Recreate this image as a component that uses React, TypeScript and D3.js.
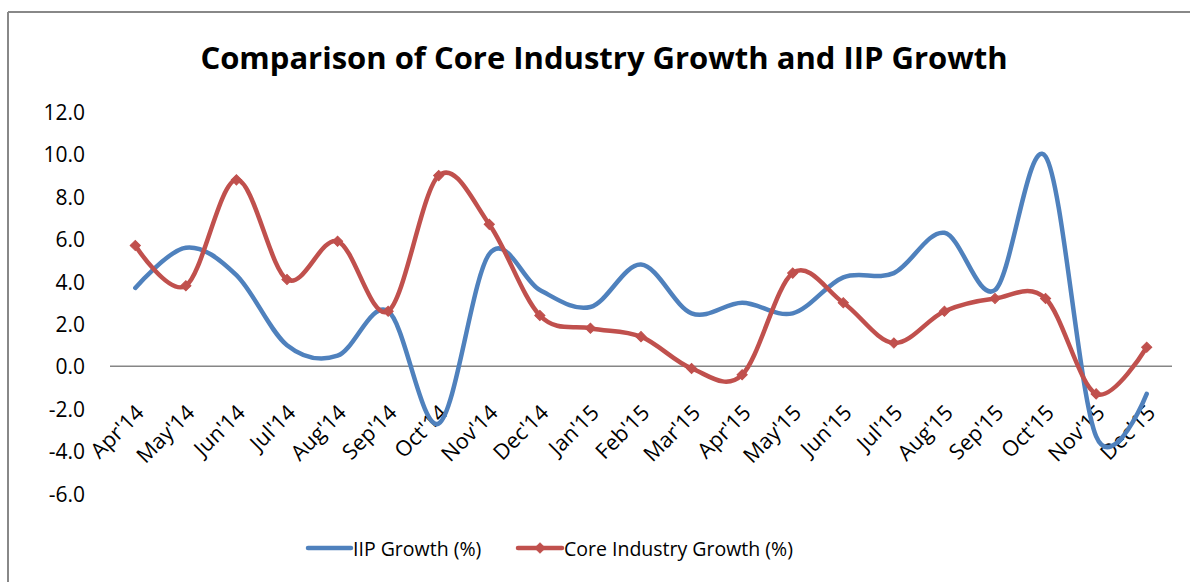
import React from "react";
import * as d3 from "d3";

const categories = [
  "Apr'14", "May'14", "Jun'14", "Jul'14", "Aug'14", "Sep'14", "Oct'14",
  "Nov'14", "Dec'14", "Jan'15", "Feb'15", "Mar'15", "Apr'15", "May'15",
  "Jun'15", "Jul'15", "Aug'15", "Sep'15", "Oct'15", "Nov'15", "Dec'15",
];
const iipGrowth = [
  3.7, 5.6, 4.3, 1.0, 0.5, 2.6, -2.7, 5.3, 3.6, 2.8, 4.8, 2.5, 3.0, 2.5,
  4.2, 4.4, 6.3, 3.6, 9.9, -3.3, -1.3,
];
const coreGrowth = [
  5.7, 3.8, 8.8, 4.1, 5.9, 2.6, 9.0, 6.7, 2.4, 1.8, 1.4, -0.1, -0.4, 4.4,
  3.0, 1.1, 2.6, 3.2, 3.2, -1.3, 0.9,
];
const yTicks = [12, 10, 8, 6, 4, 2, 0, -2, -4, -6];

const TITLE = "Comparison of Core Industry Growth and IIP Growth";
const BLUE = "#4F81BD";
const RED = "#C0504D";
const FONT = "'Open Sans', 'Liberation Sans', sans-serif";

export default function App() {
  const W = 1190;
  const H = 582;
  const x = d3.scaleBand<string>().domain(categories).range([110, 1172]);
  const y = d3.scaleLinear().domain([-6, 12]).range([493.5, 112]);
  const cx = (c: string) => (x(c) as number) + x.bandwidth() / 2;

  const line = d3
    .line<number>()
    .x((_, i) => cx(categories[i]))
    .y((d) => y(d))
    .curve(d3.curveCatmullRom.alpha(0));

  const diamond = d3.symbol().type(d3.symbolSquare).size(52)();

  return (
    <svg
      width={W}
      height={H}
      style={{ position: "absolute", left: 0, top: 0, background: "#fff" }}
    >
      <rect x={0} y={0} width={W} height={H} fill="#fff" />
      {/* frame */}
      <line x1={8} y1={12} x2={W} y2={12} stroke="#888" strokeWidth={2} />
      <line x1={8} y1={12} x2={8} y2={H} stroke="#888" strokeWidth={2} />

      <text
        x={604}
        y={57}
        textAnchor="middle"
        dominantBaseline="central"
        fontFamily={FONT}
        fontWeight="bold"
        fontSize={31}
        fill="#000"
      >
        {TITLE}
      </text>

      {/* y tick labels */}
      {yTicks.map((t) => (
        <text
          key={t}
          x={85}
          y={y(t)}
          textAnchor="end"
          dominantBaseline="central"
          fontFamily={FONT}
          fontSize={21}
          fill="#000"
        >
          {t.toFixed(1)}
        </text>
      ))}

      {/* zero line */}
      <line x1={110} x2={1172} y1={y(0)} y2={y(0)} stroke="#868686" strokeWidth={1.5} />

      {/* x labels */}
      {categories.map((c) => (
        <text
          key={c}
          transform={`translate(${cx(c) + 10},${414}) rotate(-45)`}
          textAnchor="end"
          fontFamily={FONT}
          fontSize={21.5}
          fill="#000"
        >
          {c}
        </text>
      ))}

      {/* series */}
      <path d={line(iipGrowth) || ""} fill="none" stroke={BLUE} strokeWidth={4.5} strokeLinecap="round" strokeLinejoin="round" />
      <path d={line(coreGrowth) || ""} fill="none" stroke={RED} strokeWidth={4.5} strokeLinecap="round" strokeLinejoin="round" />
      {coreGrowth.map((v, i) => (
        <path
          key={i}
          d={diamond || ""}
          transform={`translate(${cx(categories[i])},${y(v)}) rotate(45)`}
          fill={RED}
          stroke={RED}
          strokeWidth={1}
        />
      ))}

      {/* legend */}
      <line x1={308} x2={351} y1={548} y2={548} stroke={BLUE} strokeWidth={4.5} strokeLinecap="round" />
      <text x={353} y={548} dominantBaseline="central" fontFamily={FONT} fontSize={19.5} fill="#000">
        IIP Growth (%)
      </text>
      <line x1={518} x2={562} y1={548} y2={548} stroke={RED} strokeWidth={4.5} strokeLinecap="round" />
      <path d={diamond || ""} transform={`translate(540,548) rotate(45)`} fill={RED} stroke={RED} />
      <text x={564} y={548} dominantBaseline="central" fontFamily={FONT} fontSize={19.5} fill="#000">
        Core Industry Growth (%)
      </text>
    </svg>
  );
}
